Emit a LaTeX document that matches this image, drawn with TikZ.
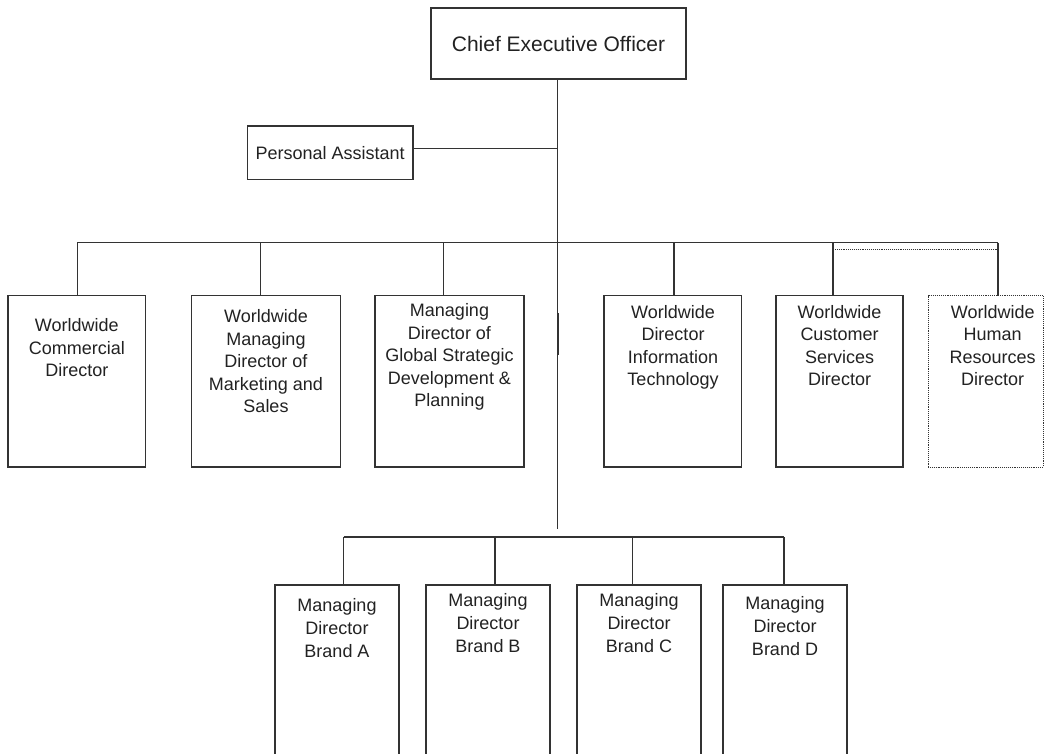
\documentclass[tikz,border=0pt]{standalone}
\usepackage{fontspec}
\setmainfont{Liberation Sans}
\definecolor{ln}{HTML}{333333}
\definecolor{tx}{HTML}{222222}
\newcommand{\obox}[6][]{\node[box,#1,minimum width={(#5-#3)*1pt},minimum height={(#6-#4)*1pt}] (#2) at ({(#3+#5)/2},{(#4+#6)/2}) {};}
\begin{document}
\begin{tikzpicture}[x=1pt,y=-1pt,
  box/.style={draw=ln,line width=1.1pt,inner sep=0pt,outer sep=0pt,fill=white},
  conn/.style={draw=ln,line width=1.1pt},
  lbl/.style={text=tx,align=center,anchor=north,inner sep=0pt,font=\fontsize{18}{22.5}\selectfont},
  lblb/.style={lbl,font=\fontsize{18}{23}\selectfont},
  dotbox/.style={box,draw=ln,line width=0.9pt,densely dotted}]
\useasboundingbox (0,0) rectangle (1049,754);
\clip (0,0) rectangle (1049,754);
% CEO and PA
\obox{ceo}{431}{8}{686}{79}
\node[text=tx,inner sep=0pt,font=\fontsize{21}{25}\selectfont] (ceot) at (ceo.center) {Chief Executive Officer};
\obox{pa}{247.3}{126}{413}{179.3}
\node[text=tx,inner sep=0pt,font=\fontsize{18}{22}\selectfont] (pat) at (pa.center) {Personal Assistant};
% trunk coordinates
\coordinate (tk) at (557.7,79);
\coordinate (paj) at (557.7,148.3);
\coordinate (tb) at (557.7,529);
\draw[conn] (tk) -- (tb);
\draw[conn] (paj -| pa.east) -- (paj);
\coordinate (mk1) at (557.7,313);
\coordinate (mk2) at (557.7,355);
\draw[conn,line width=2pt] (mk1) -- (mk2);
% first row boxes
\obox{b1}{8}{295.7}{145.7}{467}
\obox{b2}{191.7}{295.7}{340.3}{467}
\obox{b3}{375}{295.7}{524}{467}
\obox{b4}{604}{295.7}{741.7}{467}
\obox{b5}{776}{295.7}{903}{467}
\obox[dotbox]{b6}{928}{295.7}{1043}{467}
\node[lbl] (t1) at (76.8,318.5) {Worldwide\\Commercial\\Director};
\node[lbl] (t2) at (266,309.5) {Worldwide\\Managing\\Director of\\Marketing and\\Sales};
\node[lbl] (t3) at (449.5,303.5) {Managing\\Director of\\Global Strategic\\Development \&\\Planning};
\node[lbl] (t4) at (673,305) {Worldwide\\Director\\Information\\Technology};
\node[lbl] (t5) at (839.5,305) {Worldwide\\Customer\\Services\\Director};
\node[lbl] (t6) at (992.7,305) {Worldwide\\Human\\Resources\\Director};
% top bus
\coordinate (j1) at (77.3,242.7);
\coordinate (j2) at (260.3,242.7);
\coordinate (j3) at (443.7,242.7);
\coordinate (j4) at (674,242.7);
\coordinate (j5) at (833,242.7);
\coordinate (j6) at (998,242.7);
\draw[conn] (j1) -- (j6);
\foreach \i in {1,...,6} {\draw[conn] (j\i) -- (j\i |- b\i.north);}
\coordinate (d5) at (833,249.3);
\coordinate (d6) at (998,249.3);
\draw[draw=ln,line width=0.9pt,densely dotted] (d5) -- (d6);
% bottom row
\obox{ba}{275}{585}{399}{780}
\obox{bb}{426}{585}{550}{780}
\obox{bc}{577}{585}{701}{780}
\obox{bd}{723}{585}{847}{780}
\node[lblb] (ta) at (337,598) {Managing\\Director\\Brand A};
\node[lblb] (tb2) at (488,593) {Managing\\Director\\Brand B};
\node[lblb] (tc) at (639,593) {Managing\\Director\\Brand C};
\node[lblb] (td) at (785,596) {Managing\\Director\\Brand D};
\coordinate (ka) at (343.7,537);
\coordinate (kb) at (495,537);
\coordinate (kc) at (632.7,537);
\coordinate (kd) at (784,537);
\draw[conn] (ka) -- (kd);
\draw[conn] (ka) -- (ka |- ba.north);
\draw[conn] (kb) -- (kb |- bb.north);
\draw[conn] (kc) -- (kc |- bc.north);
\draw[conn] (kd) -- (kd |- bd.north);
\end{tikzpicture}
\end{document}
